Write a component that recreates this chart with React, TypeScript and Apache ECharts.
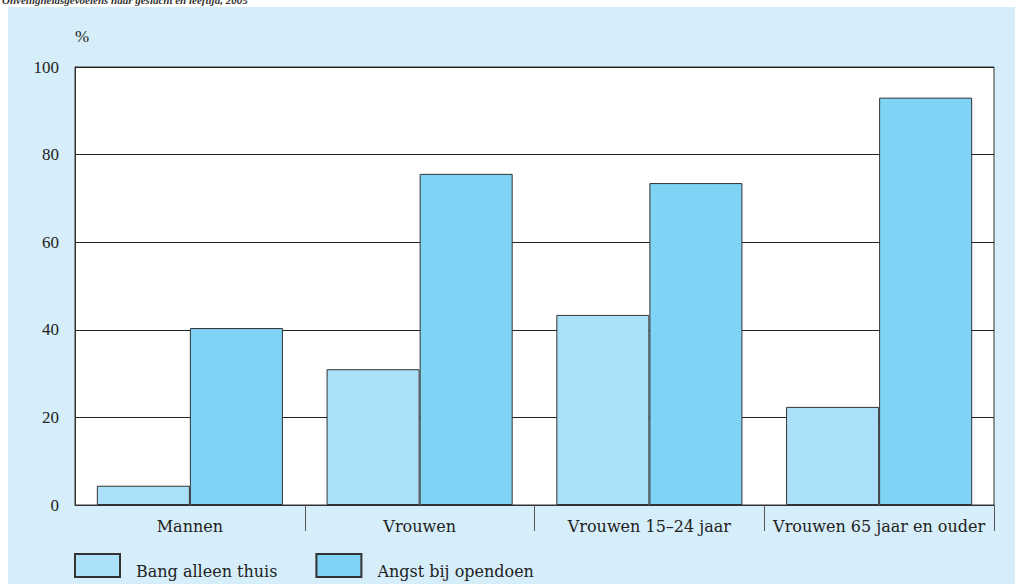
import React, { useEffect, useRef } from "react";
import * as echarts from "echarts";

const categories = ["Mannen", "Vrouwen", "Vrouwen 15–24 jaar", "Vrouwen 65 jaar en ouder"];
const bangAlleenThuis = [4.4, 31.0, 43.4, 22.4];
const angstBijOpendoen = [40.4, 75.6, 73.5, 93.0];
const seriesNames = ["Bang alleen thuis", "Angst bij opendoen"];
const titleText = "Onveiligheidsgevoelens naar geslacht en leeftijd, 2005";

const FONT = "'DejaVu Serif', serif";
const NUMFONT = "'Liberation Serif', 'Times New Roman', serif";

export default function App() {
  const ref = useRef<HTMLDivElement>(null);
  useEffect(() => {
    if (!ref.current) return;
    const chart = echarts.init(ref.current, null, { renderer: "svg" });
    chart.setOption({
      animation: false,
      graphic: [
        {
          type: "rect",
          z: -10,
          shape: { x: 8, y: 7, width: 1007, height: 577 },
          style: { fill: "#d6eefa" },
          silent: true,
        },
        {
          type: "text",
          x: 2,
          y: -6,
          style: {
            text: titleText,
            font: `bold italic 11px ${NUMFONT}`,
            fill: "#333",
          },
        },
      ],
      grid: {
        left: 75,
        right: 21,
        top: 67,
        bottom: 79,
        show: true,
        backgroundColor: "#ffffff",
        borderColor: "#333",
        borderWidth: 1,
      },
      legend: {
        left: 74,
        top: 553,
        padding: 0,
        itemWidth: 45,
        itemHeight: 23,
        itemGap: 38,
        icon: "rect",
        formatter: (name: string) => `{t|${name}}`,
        textStyle: {
          fontFamily: FONT,
          fontSize: 16,
          color: "#222",
          rich: {
            t: {
              fontFamily: FONT,
              fontSize: 16,
              color: "#222",
              padding: [12, 0, 0, 11],
            },
          },
        },
        data: seriesNames,
      },
      xAxis: {
        type: "category",
        data: categories,
        axisLine: { lineStyle: { color: "#333", width: 1 } },
        axisTick: {
          show: true,
          length: 26,
          lineStyle: { color: "#555" },
          interval: (index: number) => index !== 0,
        },
        axisLabel: {
          fontFamily: FONT,
          fontSize: 16,
          color: "#222",
          margin: 13,
          interval: 0,
        },
      },
      yAxis: {
        type: "value",
        min: 0,
        max: 100,
        interval: 20,
        name: "%",
        nameLocation: "end",
        nameGap: 22,
        nameTextStyle: { fontFamily: NUMFONT, fontSize: 17, color: "#222", align: "left" },
        axisLine: { show: true, lineStyle: { color: "#333" } },
        axisTick: { show: false },
        splitLine: { lineStyle: { color: "#222", width: 1 } },
        axisLabel: { fontFamily: NUMFONT, fontSize: 17, color: "#222", margin: 16 },
      },
      series: [
        {
          name: seriesNames[0],
          type: "bar",
          data: bangAlleenThuis,
          barGap: "0%",
          barCategoryGap: "19%",
          itemStyle: { color: "#abe0f9", borderColor: "#333", borderWidth: 1 },
        },
        {
          name: seriesNames[1],
          type: "bar",
          data: angstBijOpendoen,
          barGap: "0%",
          barCategoryGap: "19%",
          itemStyle: { color: "#7fd3f5", borderColor: "#333", borderWidth: 1 },
        },
      ],
    });
    return () => chart.dispose();
  }, []);
  return (
    <div
      ref={ref}
      style={{ position: "absolute", left: 0, top: 0, width: 1015, height: 584 }}
    />
  );
}
